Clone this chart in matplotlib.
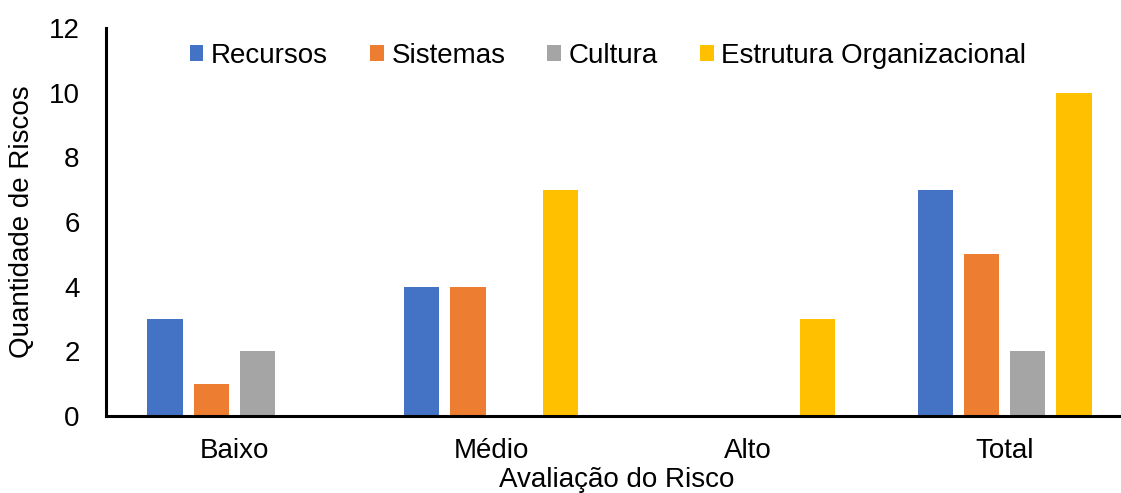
import matplotlib
matplotlib.use("Agg")
import matplotlib.pyplot as plt
import numpy as np

categories = ["Baixo", "Médio", "Alto", "Total"]
series_names = ["Recursos", "Sistemas", "Cultura", "Estrutura Organizacional"]
recursos = [3, 4, 0, 7]
sistemas = [1, 4, 0, 5]
cultura = [2, 0, 0, 2]
estrutura = [0, 7, 3, 10]
colors = ["#4472C4", "#ED7D31", "#A5A5A5", "#FFC000"]

plt.rcParams['font.family'] = ['Liberation Sans', 'DejaVu Sans']

W, H = 1121, 493
fig = plt.figure(figsize=(W/100, H/100), dpi=100)
left, right, top, bottom = 106, 1133, 28, 416
ax = fig.add_axes([left/W, 1-bottom/H, (right-left)/W, (bottom-top)/H])

x = np.arange(len(categories))
pitch = 0.18
width = 0.137
all_series = [recursos, sistemas, cultura, estrutura]
for i, (vals, name, c) in enumerate(zip(all_series, series_names, colors)):
    ax.bar(x + (i-1.5)*pitch, vals, width, color=c, label=name, linewidth=0)

fs = 20
ax.set_xlim(-0.5, 3.5)
ax.set_ylim(0, 12)
ax.set_yticks(range(0, 13, 2))
ax.set_xticks(x)
ax.set_xticklabels(categories)
ax.tick_params(axis='both', length=0, labelsize=fs)
ax.tick_params(axis='y', pad=19)
ax.tick_params(axis='x', pad=16)
for s in ['top', 'right']:
    ax.spines[s].set_visible(False)
for s in ['left', 'bottom']:
    ax.spines[s].set_linewidth(2.2)
    ax.spines[s].set_color('black')

fig.text(22/W, 1-222/H, "Quantidade de Riscos", rotation=90, ha='center', va='center', fontsize=fs)
fig.text(617/W, 1-487/H, "Avaliação do Risco", ha='center', va='baseline', fontsize=fs)

fig.legend(loc='center', bbox_to_anchor=(608/W, 1-56/H), ncol=4, frameon=False,
           fontsize=fs, handlelength=0.5, handleheight=0.5, handletextpad=0.28,
           columnspacing=1.5)

fig.savefig("out.png", dpi=100)
